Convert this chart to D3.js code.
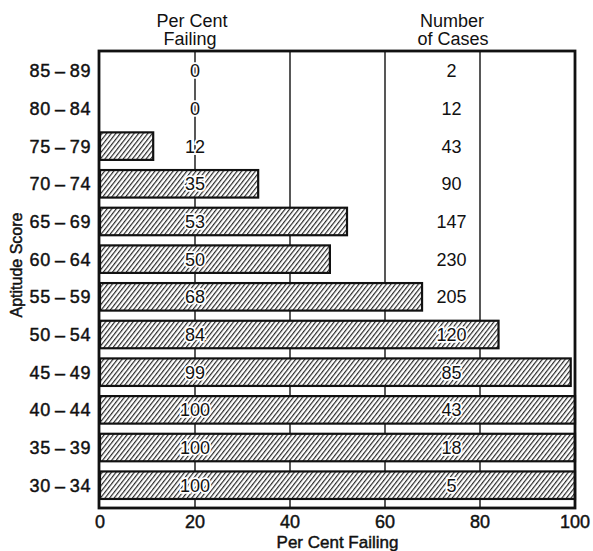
<!DOCTYPE html>
<html><head><meta charset="utf-8">
<script src="https://cdn.jsdelivr.net/npm/d3@7"></script>
<style>
html,body{margin:0;padding:0;background:#fff;}
text{font-family:"Liberation Sans",Arial,sans-serif;fill:#111;}
.heavy{stroke:#111;stroke-width:0.45px;}
</style></head>
<body><svg id="c" width="593" height="551"></svg>
<script>
const scores = ["85-89","80-84","75-79","70-74","65-69","60-64","55-59","50-54","45-49","40-44","35-39","30-34"];
const barValues = [0,0,11.2,33.3,52,48.4,67.8,83.9,99.1,100,100,100];
const pctLabels = ["0","0","12","35","53","50","68","84","99","100","100","100"];
const cases = ["2","12","43","90","147","230","205","120","85","43","18","5"];
const xTicks = [0,20,40,60,80,100];
const gridTicks = [20,40,60,80];

const svg = d3.select("#c");
const L=100, R=575, T=51, B=508;
const x = d3.scaleLinear().domain([0,100]).range([L,R]);
const y = d3.scaleBand().domain(scores).range([T,B]).paddingInner(0.27).paddingOuter(0.2).align(0.4);

const defs = svg.append("defs");
const pat = defs.append("pattern").attr("id","hatch").attr("patternUnits","userSpaceOnUse")
  .attr("width",3.6).attr("height",10).attr("patternTransform","rotate(38)");
pat.append("rect").attr("width",3.6).attr("height",10).attr("fill","#fff");
pat.append("line").attr("x1",0.6).attr("x2",0.6).attr("y1",0).attr("y2",10)
  .attr("stroke","#222").attr("stroke-width",1.15);

// gridlines
svg.append("g").selectAll("line").data(gridTicks).join("line")
  .attr("x1",d=>x(d)).attr("x2",d=>x(d)).attr("y1",T).attr("y2",B)
  .attr("stroke","#111").attr("stroke-width",1.4);

// bars
svg.append("g").selectAll("rect").data(scores.map((s,i)=>({s,v:barValues[i]})).filter(d=>d.v>0)).join("rect")
  .attr("x",x(0)).attr("y",d=>y(d.s)).attr("width",d=>x(d.v)-x(0)).attr("height",y.bandwidth())
  .attr("fill","url(#hatch)").attr("stroke","#111").attr("stroke-width",2.2);

// frame
svg.append("rect").attr("x",L-1).attr("y",T).attr("width",R-L+1).attr("height",B-T)
  .attr("fill","none").attr("stroke","#111").attr("stroke-width",2.8);

const mid = s => y(s)+y.bandwidth()/2;
// percent labels
svg.append("g").selectAll("text").data(scores).join("text")
  .attr("x",x(20)).attr("y",d=>mid(d)).attr("dy","0.36em").attr("text-anchor","middle")
  .attr("font-size",18).attr("stroke","#fff").attr("stroke-width",3.5).attr("paint-order","stroke")
  .text((d,i)=>pctLabels[i]);
// case labels
svg.append("g").selectAll("text").data(scores).join("text")
  .attr("x",x(74)).attr("y",d=>mid(d)).attr("dy","0.36em").attr("text-anchor","middle")
  .attr("font-size",18).attr("stroke","#fff").attr("stroke-width",3.5).attr("paint-order","stroke")
  .text((d,i)=>cases[i]);

// y labels
svg.append("g").selectAll("text").data(scores).join("text").attr("class","heavy")
  .attr("x",91).attr("y",d=>mid(d)).attr("dy","0.36em").attr("text-anchor","end")
  .attr("font-size",18).attr("letter-spacing",0.6)
  .text(d=>d.replace("-","\u2009\u2013\u2009"));

// x tick labels
svg.append("g").selectAll("text").data(xTicks).join("text").attr("class","heavy")
  .attr("x",d=>x(d)).attr("y",528).attr("text-anchor","middle").attr("font-size",18)
  .text(d=>d);

svg.append("text").attr("class","heavy").attr("x",(L+R)/2).attr("y",548).attr("text-anchor","middle").attr("font-size",17).text("Per Cent Failing");
svg.append("text").attr("class","heavy").attr("transform","translate(22,265) rotate(-90)").attr("text-anchor","middle").attr("font-size",16).text("Aptitude Score");

const hdr = svg.append("g");
hdr.append("text").attr("x",192).attr("y",26.5).attr("text-anchor","middle").attr("font-size",18).text("Per Cent");
hdr.append("text").attr("x",190).attr("y",45).attr("text-anchor","middle").attr("font-size",18).text("Failing");
hdr.append("text").attr("x",452).attr("y",26.5).attr("text-anchor","middle").attr("font-size",18).text("Number");
hdr.append("text").attr("x",453).attr("y",45).attr("text-anchor","middle").attr("font-size",18).text("of Cases");
</script></body></html>
